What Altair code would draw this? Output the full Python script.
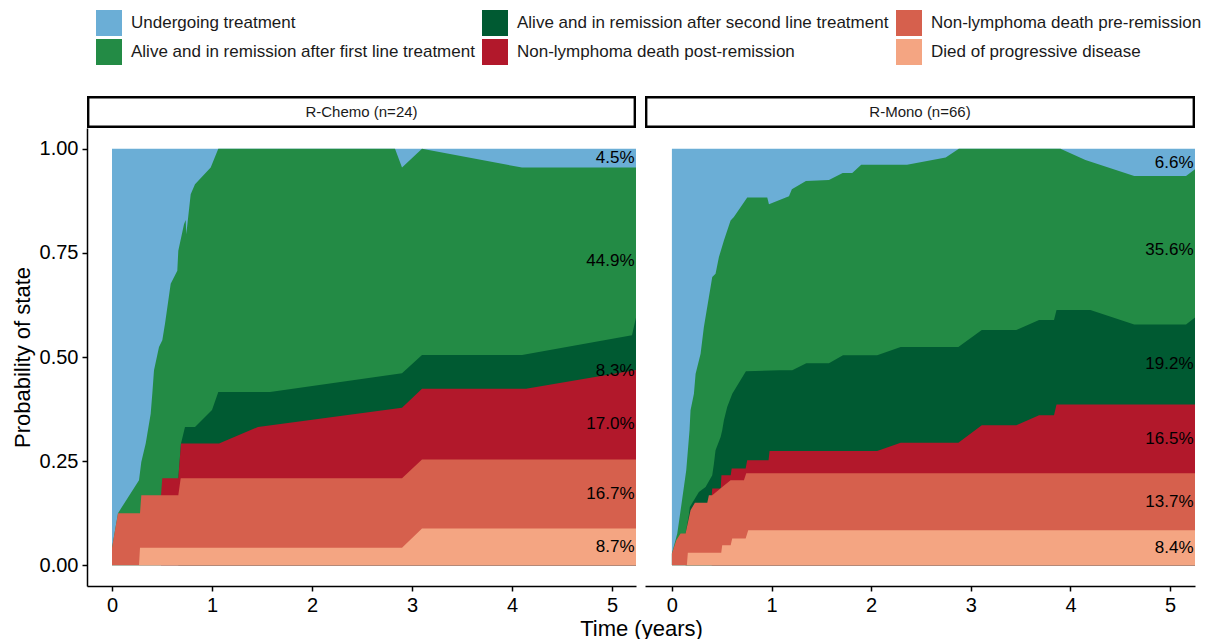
import altair as alt
import pandas as pd

# ---- states (top of stack first) and colours ----
STATES = [
    "Undergoing treatment",
    "Alive and in remission after first line treatment",
    "Alive and in remission after second line treatment",
    "Non-lymphoma death post-remission",
    "Non-lymphoma death pre-remission",
    "Died of progressive disease",
]
COLORS = ["#6BAED6", "#238B45", "#005A32", "#B2182B", "#D6604D", "#F4A582"]

PANELS = ["R-Chemo (n=24)", "R-Mono (n=66)"]

# ---- R-Chemo: upper edge of each state's band (cumulative probability), time in years ----
CHEMO_UNDER_T = [0.0, 5.24]
CHEMO_UNDER_P = [1.0, 1.0]
CHEMO_FIRST_T = [0.0, 0.06, 0.27, 0.293, 0.337, 0.387, 0.403, 0.42, 0.47, 0.503, 0.53,
                 0.587, 0.653, 0.663, 0.72, 0.737, 0.743, 0.787, 0.83, 0.987, 1.063,
                 2.83, 2.90, 3.10, 4.10, 5.24]
CHEMO_FIRST_P = [0.042, 0.125, 0.204, 0.248, 0.292, 0.364, 0.412, 0.468, 0.524, 0.540, 0.580,
                 0.676, 0.707, 0.755, 0.819, 0.829, 0.795, 0.891, 0.915, 0.955, 1.0,
                 1.0, 0.955, 1.0, 0.955, 0.955]
CHEMO_SECOND_T = [0.663, 0.69, 0.73, 0.83, 1.0, 1.063, 1.58, 2.90, 3.10, 4.10, 5.20, 5.24]
CHEMO_SECOND_P = [0.209, 0.292, 0.332, 0.332, 0.373, 0.416, 0.416, 0.461, 0.505, 0.505, 0.552, 0.595]
CHEMO_POST_T = [0.49, 0.503, 0.663, 0.69, 1.07, 1.46, 2.90, 3.10, 4.14, 5.24]
CHEMO_POST_P = [0.168, 0.209, 0.209, 0.292, 0.292, 0.332, 0.378, 0.424, 0.424, 0.469]
CHEMO_PRE_T = [0.0, 0.06, 0.28, 0.293, 0.663, 0.687, 2.90, 3.10, 5.24]
CHEMO_PRE_P = [0.042, 0.125, 0.125, 0.168, 0.168, 0.209, 0.209, 0.254, 0.254]
CHEMO_DIED_T = [0.0, 0.27, 0.28, 2.90, 3.10, 5.24]
CHEMO_DIED_P = [0.0, 0.0, 0.042, 0.042, 0.088, 0.088]
CHEMO_PCT = [4.5, 44.9, 8.3, 17.0, 16.7, 8.7]

# ---- R-Mono ----
MONO_UNDER_T = [0.0, 5.25]
MONO_UNDER_P = [1.0, 1.0]
MONO_FIRST_T = [0.0, 0.054, 0.097, 0.144, 0.177, 0.187, 0.221, 0.238, 0.288, 0.321, 0.405,
                0.438, 0.472, 0.522, 0.589, 0.622, 0.756, 0.957, 0.974, 1.175, 1.204,
                1.345, 1.576, 1.714, 1.81, 1.90, 2.36, 2.748, 2.88, 3.90, 4.15, 4.64,
                5.16, 5.25]
MONO_FIRST_P = [0.028, 0.076, 0.148, 0.228, 0.324, 0.372, 0.412, 0.460, 0.508, 0.572, 0.692,
                0.700, 0.740, 0.780, 0.828, 0.836, 0.883, 0.883, 0.867, 0.886, 0.903,
                0.923, 0.925, 0.942, 0.942, 0.962, 0.962, 0.979, 1.0, 1.0, 0.973, 0.935,
                0.935, 0.951]
MONO_SECOND_T = [0.137, 0.17, 0.18, 0.271, 0.338, 0.405, 0.422, 0.438, 0.489, 0.505, 0.522,
                 0.555, 0.606, 0.743, 1.074, 1.208, 1.349, 1.576, 1.717, 2.06, 2.296, 2.875,
                 3.11, 3.457, 3.685, 3.835, 3.86, 4.2, 4.64, 5.16, 5.25]
MONO_SECOND_P = [0.076, 0.12, 0.14, 0.176, 0.188, 0.216, 0.244, 0.276, 0.308, 0.324, 0.348,
                 0.380, 0.412, 0.466, 0.468, 0.468, 0.485, 0.485, 0.504, 0.504, 0.524, 0.524,
                 0.565, 0.565, 0.589, 0.589, 0.613, 0.613, 0.578, 0.578, 0.595]
MONO_POST_T = [0.40, 0.405, 0.49, 0.497, 0.59, 0.60, 0.74, 0.756, 0.97, 0.98, 2.06, 2.296,
               2.875, 3.11, 3.457, 3.685, 3.835, 3.86, 5.25]
MONO_POST_P = [0.168, 0.184, 0.184, 0.216, 0.216, 0.232, 0.232, 0.252, 0.252, 0.274, 0.274, 0.294,
               0.294, 0.336, 0.336, 0.360, 0.360, 0.386, 0.386]
MONO_PRE_T = [0.0, 0.044, 0.087, 0.137, 0.187, 0.231, 0.355, 0.371, 0.405, 0.505, 0.589,
              0.723, 0.746, 5.25]
MONO_PRE_P = [0.028, 0.060, 0.076, 0.076, 0.132, 0.150, 0.150, 0.168, 0.168, 0.188, 0.204,
              0.204, 0.221, 0.221]
MONO_DIED_T = [0.0, 0.15, 0.16, 0.495, 0.505, 0.59, 0.605, 0.74, 0.766, 5.25]
MONO_DIED_P = [0.0, 0.0, 0.030, 0.030, 0.048, 0.048, 0.064, 0.064, 0.084, 0.084]
MONO_PCT = [6.6, 35.6, 19.2, 16.5, 13.7, 8.4]

X_TICKS = [0, 1, 2, 3, 4, 5]
Y_TICKS = [0, 0.25, 0.5, 0.75, 1.0]

CHEMO = [(CHEMO_UNDER_T, CHEMO_UNDER_P), (CHEMO_FIRST_T, CHEMO_FIRST_P),
         (CHEMO_SECOND_T, CHEMO_SECOND_P), (CHEMO_POST_T, CHEMO_POST_P),
         (CHEMO_PRE_T, CHEMO_PRE_P), (CHEMO_DIED_T, CHEMO_DIED_P)]
MONO = [(MONO_UNDER_T, MONO_UNDER_P), (MONO_FIRST_T, MONO_FIRST_P),
        (MONO_SECOND_T, MONO_SECOND_P), (MONO_POST_T, MONO_POST_P),
        (MONO_PRE_T, MONO_PRE_P), (MONO_DIED_T, MONO_DIED_P)]

FONT = "Liberation Sans"
STRIP_H = 32
PANEL_H = 458
WL, WR = 549, 550

# legend fills column-wise in 3 columns -> natural state order gives the reference layout
color_scale = alt.Scale(domain=STATES, range=COLORS)
legend = alt.Legend(orient="none", legendX=9, legendY=-118, columns=3, columnPadding=7,
                    rowPadding=3, symbolType="square", symbolSize=676, symbolStrokeWidth=0,
                    symbolOpacity=1, labelFontSize=17, labelOffset=9, labelLimit=600,
                    labelColor="#1a1a1a", labelFont=FONT, title=None, padding=0)


def panel(name, series, pcts, xdom, w, left):
    rows = []
    for state, (ts, ps) in zip(STATES, series):
        for t, p in zip(ts, ps):
            rows.append({"state": state, "t": t, "p": p})
    df = pd.DataFrame(rows)

    xaxis_kw = dict(values=X_TICKS, format="d", grid=False, tickSize=5, labelPadding=4)
    if left:
        xaxis_kw.update(title="Time (years)", titleX=554, titlePadding=3)
    else:
        xaxis_kw.update(title="")
    xenc = alt.X("t:Q", scale=alt.Scale(domain=xdom, nice=False, zero=False),
                 axis=alt.Axis(**xaxis_kw))
    yscale = alt.Scale(domain=[-0.05, 1.05], nice=False, zero=False)
    if left:
        yenc = alt.Y("p:Q", scale=yscale,
                     axis=alt.Axis(values=Y_TICKS, format=".2f", grid=False, tickSize=5,
                                   labelPadding=4, title="Probability of state",
                                   titlePadding=5))
    else:
        yenc = alt.Y("p:Q", scale=yscale, axis=None)

    layers = []
    for state in STATES:
        layers.append(
            alt.Chart(df).transform_filter(alt.FieldEqualPredicate(field="state", equal=state))
            .mark_area(opacity=1, interpolate="linear")
            .encode(x=xenc, y=yenc, y2=alt.Y2Datum(0),
                    color=alt.Color("state:N", scale=color_scale, legend=legend))
        )

    # percentage labels at the middle of each band (bottom-up cumulative)
    bottom_up = list(reversed(pcts))
    mids, cum = [], 0.0
    for v in bottom_up:
        mids.append((cum + v / 2) / 100.0)
        cum += v
    lab = pd.DataFrame({"mid": mids, "txt": [f"{v:.1f}%" for v in bottom_up]})
    layers.append(
        alt.Chart(lab).mark_text(align="right", baseline="middle", dx=-1.5, fontSize=17,
                                 font=FONT, color="black").encode(
            x=alt.XDatum(xdom[1]), y=alt.Y("mid:Q", scale=yscale), text="txt:N")
    )

    # facet strip drawn just above the plot area
    sdf = pd.DataFrame({"label": [name]})
    layers.append(
        alt.Chart(sdf).mark_rect(fill="white", stroke="black", strokeWidth=2.4).encode(
            x=alt.value(1.2), x2=alt.value(w - 1.2),
            y=alt.value(-STRIP_H + 1.2), y2=alt.value(-1.2))
    )
    layers.append(
        alt.Chart(sdf).mark_text(fontSize=15, font=FONT, color="#1a1a1a", baseline="middle",
                                 align="center").encode(
            x=alt.value(w / 2), y=alt.value(-STRIP_H / 2), text="label:N")
    )
    return alt.layer(*layers).properties(width=w, height=PANEL_H)


chart = (
    alt.hconcat(panel(PANELS[0], CHEMO, CHEMO_PCT, [-0.25, 5.24], WL, True),
                panel(PANELS[1], MONO, MONO_PCT, [-0.27, 5.25], WR, False),
                spacing=9, bounds="flush")
    .properties(padding={"left": 3, "top": 2, "right": 0, "bottom": 0})
    .configure(font=FONT)
    .configure_view(stroke=None)
    .configure_axis(domainColor="black", domainWidth=1.5, tickColor="black", tickWidth=1.5,
                    labelColor="black", labelFontSize=20, labelFont=FONT,
                    titleFontSize=22, titleFontWeight="normal", titleColor="black",
                    titleFont=FONT)
)

chart.save("out.html", embed_options={"renderer": "svg", "actions": False})
